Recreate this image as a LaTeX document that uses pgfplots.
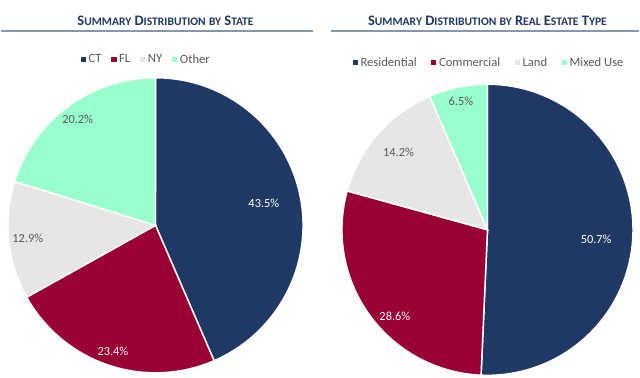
\documentclass[border=0pt]{standalone}
\usepackage{pgfplots}
\pgfplotsset{compat=1.18}
\usepackage{fontspec}
\setmainfont{Carlito}
\definecolor{cNavy}{HTML}{1F3864}
\definecolor{cRed}{HTML}{990033}
\definecolor{cGray}{HTML}{E6E6E6}
\definecolor{cMint}{HTML}{99FFCC}
\definecolor{cTitle}{HTML}{1F3864}
\definecolor{cRule}{HTML}{8497B0}
\definecolor{cText}{HTML}{595959}
\newcommand\tsz{\fontsize{10.9}{12}\selectfont}
\newcommand\sm[1]{{\fontsize{8.7}{10}\selectfont #1}}
\newcommand\slice[3]{%
  \addplot[fill=#3, draw=white, line width=1.1pt, domain=#1:#2, samples=90, variable=\t]
    ({cos(\t)},{sin(\t)}) -- (0,0) -- cycle;}
\newcommand\plab[4]{% mid angle, radius, color, text
  \node[text=#3, font=\fontsize{9.3}{10}\selectfont, inner sep=0pt] at (axis cs:{#2*cos(#1)},{#2*sin(#1)}) {#4};}
\pgfplotsset{
  piestyle/.style={
    scale only axis, xmin=-1, xmax=1, ymin=-1, ymax=1, hide axis, clip=false,
    legend columns=-1,
    legend image code/.code={\fill[##1,draw=none] (0pt,-1.9pt) rectangle (3.8pt,1.9pt);},
    legend style={draw=none, fill=none, anchor=center, text=cText,
      font=\fontsize{9.5}{10}\selectfont,
      nodes={inner xsep=2pt, inner ysep=1pt}},
  }
}
\begin{document}
\begin{tikzpicture}
\path (0,0) rectangle (480pt,284.25pt);
% data: distribution by state
\def\vCT{43.5}\def\vFL{23.4}\def\vNY{12.9}\def\vOT{20.2}
% data: distribution by real estate type
\def\vRE{50.7}\def\vCO{28.6}\def\vLA{14.2}\def\vMX{6.5}
\pgfmathsetmacro\aA{90}
\pgfmathsetmacro\aB{\aA-3.6*\vCT}
\pgfmathsetmacro\aC{\aB-3.6*\vFL}
\pgfmathsetmacro\aD{\aC-3.6*\vNY}
\pgfmathsetmacro\aE{\aD-3.6*\vOT}
\pgfmathsetmacro\bA{90}
\pgfmathsetmacro\bB{\bA-3.6*\vRE}
\pgfmathsetmacro\bC{\bB-3.6*\vCO}
\pgfmathsetmacro\bD{\bC-3.6*\vLA}
\pgfmathsetmacro\bE{\bD-3.6*\vMX}
% titles
\node[text=cTitle, font=\tsz\bfseries] at (123.75pt,268.5pt)
  {S\sm{UMMARY} D\sm{ISTRIBUTION} \sm{BY} S\sm{TATE}};
\node[text=cTitle, font=\tsz\bfseries] at (366pt,268.5pt)
  {S\sm{UMMARY} D\sm{ISTRIBUTION} \sm{BY} R\sm{EAL} E\sm{STATE} T\sm{YPE}};
\draw[cRule, line width=1.5pt] (0pt,261pt) -- (234.75pt,261pt);
\draw[cRule, line width=1.5pt] (248.25pt,261pt) -- (480pt,261pt);
\begin{axis}[piestyle, at={(116.25pt,114.75pt)}, anchor=center, width=222pt, height=222pt,
  legend style={at={(0.47,1.061)}, /tikz/every even column/.append style={column sep=5.5pt}}]
\slice{\aB}{\aA}{cNavy}\addlegendentry{CT}
\slice{\aC}{\aB}{cRed}\addlegendentry{FL}
\slice{\aD}{\aC}{cGray}\addlegendentry{NY}
\slice{\aE}{\aD}{cMint}\addlegendentry{Other}
\plab{(\aA+\aB)/2}{0.75}{white}{\vCT\%}
\plab{(\aB+\aC)/2}{0.90}{white}{\vFL\%}
\plab{(\aC+\aD)/2}{0.87}{cText}{\vNY\%}
\plab{(\aD+\aE)/2}{0.89}{cText}{\vOT\%}
\end{axis}
\begin{axis}[piestyle, at={(366pt,111.375pt)}, anchor=center, width=219pt, height=219pt,
  legend style={at={(0.507,1.074)}, /tikz/every even column/.append style={column sep=9pt}}]
\slice{\bB}{\bA}{cNavy}\addlegendentry{Residential}
\slice{\bC}{\bB}{cRed}\addlegendentry{Commercial}
\slice{\bD}{\bC}{cGray}\addlegendentry{Land}
\slice{\bE}{\bD}{cMint}\addlegendentry{Mixed Use}
\plab{(\bA+\bB)/2-4}{0.75}{white}{\vRE\%}
\plab{(\bB+\bC)/2+7}{0.87}{white}{\vCO\%}
\plab{(\bC+\bD)/2}{0.81}{cText}{\vLA\%}
\plab{(\bD+\bE)/2}{0.90}{cText}{\vMX\%}
\end{axis}
\end{tikzpicture}
\end{document}
